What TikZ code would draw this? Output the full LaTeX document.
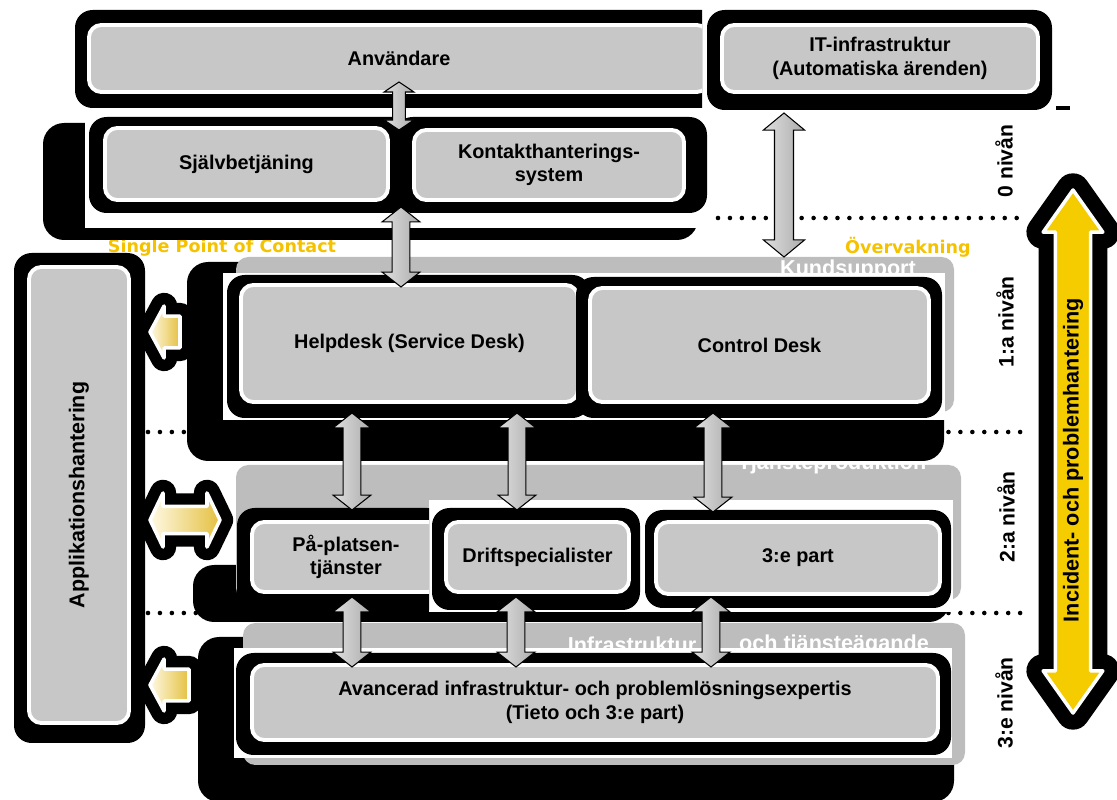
\documentclass[tikz,border=0pt]{standalone}
\usepackage{fontspec}
\setmainfont{Liberation Sans}
\newfontfamily\dvsans{DejaVu Sans}
\usetikzlibrary{calc}

\definecolor{boxlight}{RGB}{221,221,221}
\definecolor{boxdark}{RGB}{199,199,199}
\definecolor{bandgray}{RGB}{189,189,189}
\definecolor{spocyellow}{RGB}{245,194,0}
\definecolor{incyellow}{RGB}{244,204,0}
\definecolor{incpale}{RGB}{255,230,80}
\definecolor{cream}{RGB}{255,249,228}
\definecolor{gold}{RGB}{228,192,64}

\newcommand{\pu}{0.02cm}

% fat vertical double arrow: [style]{x}{top end}{bottom end}{shaft}{head}{head length}
\newcommand{\vfat}[7][grayarrow]{%
  \path[#1] let \p1=(#2,0), \p2=(#3), \p3=(#4) in
    (\x1,\y2) -- (\x1+#6,\y2-#7) -- (\x1+#5,\y2-#7) -- (\x1+#5,\y3+#7)
    -- (\x1+#6,\y3+#7) -- (\x1,\y3) -- (\x1-#6,\y3+#7) -- (\x1-#5,\y3+#7)
    -- (\x1-#5,\y2-#7) -- (\x1-#6,\y2-#7) -- cycle;}
% fat arrow pointing left: [style]{tip}{tail}{shaft}{head}{head length}
\newcommand{\lfat}[6][yellowarrow]{%
  \path[#1] let \p1=(#2), \p2=(#3) in
    (\x1,\y1) -- (\x1+#6,\y1+#5) -- (\x1+#6,\y1+#4) -- (\x2,\y1+#4)
    -- (\x2,\y1-#4) -- (\x1+#6,\y1-#4) -- (\x1+#6,\y1-#5) -- cycle;}
% fat horizontal double arrow
\newcommand{\hfat}[6][yellowarrow]{%
  \path[#1] let \p1=(#2), \p2=(#3) in
    (\x1,\y1) -- (\x1+#6,\y1+#5) -- (\x1+#6,\y1+#4) -- (\x2-#6,\y1+#4)
    -- (\x2-#6,\y1+#5) -- (\x2,\y1) -- (\x2-#6,\y1-#5) -- (\x2-#6,\y1-#4)
    -- (\x1+#6,\y1-#4) -- (\x1+#6,\y1-#5) -- cycle;}

\tikzset{
  blackframe/.style={fill=black,rounded corners=10pt,inner sep=0pt,outer sep=0pt},
  graybox/.style={left color=boxdark,middle color=boxlight,right color=boxdark,draw=white,line width=2.2pt,
    rounded corners=7pt,inner sep=0pt,outer sep=0pt,align=center,font=\fontsize{11.3}{13.5}\selectfont\bfseries},
  blob/.style={fill=black,rounded corners=12pt},
  band/.style={fill=bandgray,rounded corners=7pt},
  bandtext/.style={text=white,font=\fontsize{12.3}{14}\selectfont\bfseries,inner sep=0pt},
  levellabel/.style={rotate=90,inner sep=0pt,font=\fontsize{12}{14}\selectfont\bfseries},
  spoc/.style={text=spocyellow,inner sep=0pt,font=\dvsans\bfseries\fontsize{10}{12}\selectfont},
  dotline/.style={line width=2.6pt,line cap=round,dash pattern=on 0pt off 6.8pt},
  grayarrow/.style={draw=black,line width=0.6pt,line join=miter,left color=gray!25,middle color=white,right color=gray!65},
  yellowarrow/.style={draw=white,line width=2pt,line join=round,left color=cream,right color=gold,
    preaction={draw=black,line width=15pt,line join=round}},
  incarrow/.style={draw=white,line width=2pt,line join=round,left color=incyellow,middle color=incpale,right color=incyellow,
    preaction={draw=black,line width=19pt,line join=round}},
}

\begin{document}
\begin{tikzpicture}[x=0.02cm,y=-0.02cm,line join=round]
  \useasboundingbox (0,0) rectangle (1117,800);

  % level separators
  \draw[dotline] (718,218) -- (1018,218);
  \draw[dotline] (148,432) -- (1022,432);
  \draw[dotline] (148,613) -- (1022,613);

  % 3:e nivan
  \fill[blob] (198,637) rectangle (954,802);
  \fill[band] (243,623) rectangle (965,765);
  \node[bandtext] (infraA) at (632,645) {Infrastruktur};
  \node[bandtext] (infraB) at (834,645) {och tjänsteägande};
  \fill[white] (234,648) rectangle (952,758);
  \node[blackframe,minimum width=715*\pu,minimum height=102*\pu] (avF) at (593.5,704) {};
  \node[graybox,minimum width=686*\pu,minimum height=75*\pu] (av) at (595,702.5)
    {Avancerad infrastruktur- och problemlösningsexpertis\\(Tieto och 3:e part)};

  % 2:a nivan
  \fill[blob] (193,565) rectangle (950,622);
  \fill[band] (236,465) rectangle (961,600);
  \node[bandtext] (tjp) at (832,464) {Tjänsteproduktion};
  \fill[white] (429,500) rectangle (953,612);
  \begin{scope}
    \clip (0,0) rectangle (429,800);
    \node[blackframe,minimum width=208*\pu,minimum height=102*\pu] (ppF) at (341,559) {};
    \node[graybox,minimum width=188*\pu,minimum height=70*\pu] (pp) at (346,557) {På-platsen-\\tjänster};
  \end{scope}
  \node[blackframe,minimum width=208*\pu,minimum height=102*\pu] (dsF) at (536,559) {};
  \node[graybox,minimum width=183*\pu,minimum height=70*\pu] (ds) at (537.5,557) {Driftspecialister};
  \node[blackframe,minimum width=306*\pu,minimum height=98*\pu] (tpF) at (798,559) {};
  \node[graybox,minimum width=284*\pu,minimum height=72*\pu] (tp) at (798,558) {3:e part};

  % 1:a nivan
  \fill[blob] (187,262) rectangle (944,461);
  \fill[band] (236,257) rectangle (954,412);
  \node[bandtext] (ks) at (848,270) {Kundsupport};
  \fill[white] (223,273) rectangle (945,420);
  \node[blackframe,minimum width=363*\pu,minimum height=143*\pu] (hdF) at (408.5,346.5) {};
  \node[graybox,minimum width=337*\pu,minimum height=117*\pu] (hd) at (409.5,343.5) {Helpdesk (Service Desk)};
  \node[blackframe,minimum width=366*\pu,minimum height=141*\pu] (cdF) at (759,347.5) {};
  \node[graybox,minimum width=339*\pu,minimum height=114*\pu] (cd) at (759.5,345) {Control Desk};

  \node[spoc] (spoc) at (222,248) {Single Point of Contact};
  \node[spoc] (overv) at (908,247) {Övervakning};

  % 0 nivan
  \fill[blob] (43,123) rectangle (698,240);
  \fill[white] (85,115) rectangle (705,228);
  \node[blackframe,minimum width=312*\pu,minimum height=96*\pu] (kontF) at (551,165) {};
  \node[blackframe,minimum width=322*\pu,minimum height=96*\pu] (sbF) at (250,165) {};
  \node[graybox,minimum width=270*\pu,minimum height=70*\pu] (kont) at (549,165) {Kontakthanterings-\\system};
  \node[graybox,minimum width=283*\pu,minimum height=72*\pu] (sb) at (246.5,164) {Självbetjäning};

  \begin{scope}
    \clip (0,0) rectangle (702,800);
    \node[blackframe,minimum width=645*\pu,minimum height=98*\pu] (anvF) at (397.5,59) {};
    \node[graybox,minimum width=620*\pu,minimum height=67*\pu] (anv) at (399,58.5) {Användare};
  \end{scope}
  \node[blackframe,minimum width=345*\pu,minimum height=100*\pu] (itF) at (879.5,60) {};
  \node[graybox,minimum width=316*\pu,minimum height=67*\pu] (it) at (880,58.5) {IT-infrastruktur\\(Automatiska ärenden)};
  \draw[line width=2.3pt] (1056,108) -- (1070,108);

  % applikationshantering
  \coordinate (ksTip) at (150,332);
  \coordinate (ksEnd) at (180,332);
  \coordinate (tjTip) at (150,520);
  \coordinate (tjEnd) at (220,520);
  \coordinate (inTip) at (150,685);
  \coordinate (inEnd) at (189,685);
  \lfat{ksTip}{ksEnd}{9.1pt}{14.8pt}{8pt}
  \hfat{tjTip}{tjEnd}{7.7pt}{15.4pt}{7.4pt}
  \lfat{inTip}{inEnd}{9.1pt}{14.8pt}{8pt}
  \node[blackframe,minimum width=131*\pu,minimum height=490*\pu] (apF) at (79.5,498) {};
  \node[graybox,rotate=90,minimum width=456*\pu,minimum height=100*\pu,font=\fontsize{12.2}{14}\selectfont\bfseries]
    (ap) at (79,495) {Applikationshantering};

  % nivaer och eskalering
  \node[levellabel] (lv0) at (1004,161) {0 nivån};
  \node[levellabel] (lv1) at (1005,322) {1:a nivån};
  \node[levellabel] (lv2) at (1006,517) {2:a nivån};
  \node[levellabel] (lv3) at (1004,703) {3:e nivån};
  \coordinate (incTop) at (1073,190);
  \coordinate (incBot) at (1073,713);
  \vfat[incarrow]{1073}{incTop}{incBot}{10pt}{17pt}{24pt}
  \node[levellabel,font=\fontsize{12.3}{14}\selectfont\bfseries] (inc) at (1073,460) {Incident- och problemhantering};

  % flows
  \vfat{399}{$(anv.south)+(0,-10)$}{$(sb.north)+(0,2)$}{3.6pt}{8.5pt}{5.7pt}
  \vfat{401}{$(sb.south)+(0,7)$}{$(hd.north)+(0,2)$}{5.1pt}{10.8pt}{8.5pt}
  \vfat{784}{$(it.south)+(0,21)$}{$(cd.north)+(0,-31)$}{5.4pt}{11.7pt}{9.7pt}
  \vfat{352}{$(hd.south)+(0,11)$}{$(pp.north)+(0,-12)$}{5.1pt}{10.8pt}{8.5pt}
  \vfat{517}{$(hd.south)+(0,11)$}{$(ds.north)+(0,-12)$}{5.1pt}{10.8pt}{8.5pt}
  \vfat{713}{$(cd.south)+(0,11)$}{$(tp.north)+(0,-10)$}{5.1pt}{10.8pt}{8.5pt}
  \vfat{352}{$(pp.south)+(0,5)$}{$(av.north)+(0,2)$}{5.1pt}{10.8pt}{8.5pt}
  \vfat{516}{$(ds.south)+(0,5)$}{$(av.north)+(0,2)$}{5.1pt}{10.8pt}{8.5pt}
  \vfat{711}{$(tp.south)+(0,3)$}{$(av.north)+(0,2)$}{5.1pt}{10.8pt}{8.5pt}
\end{tikzpicture}
\end{document}
